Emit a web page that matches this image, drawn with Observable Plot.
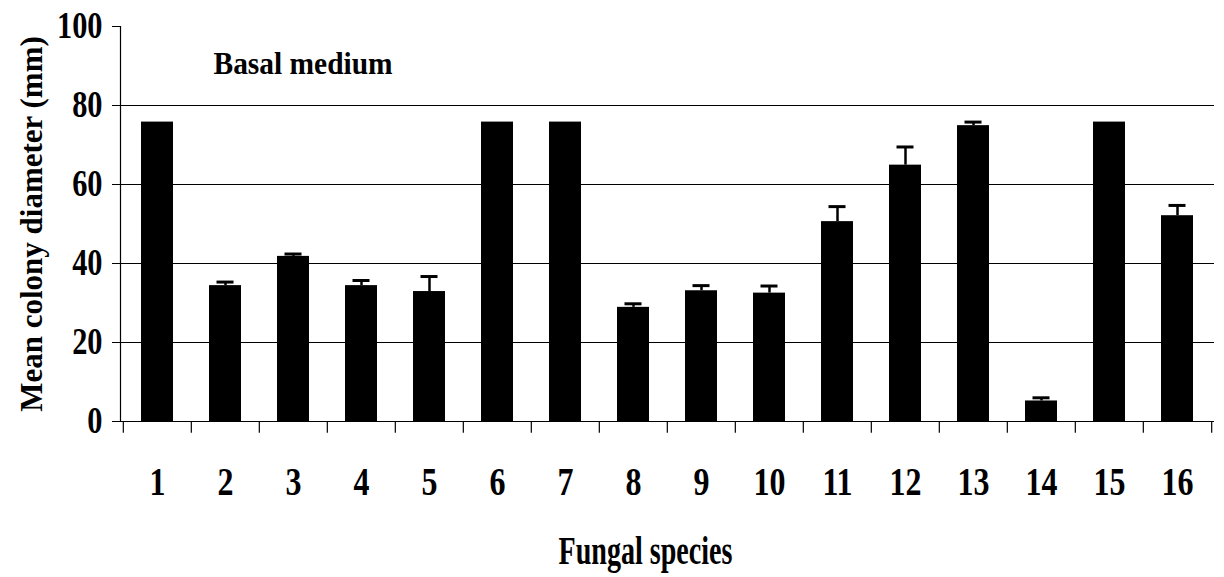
<!DOCTYPE html>
<html>
<head>
<meta charset="utf-8">
<script src="https://cdn.jsdelivr.net/npm/d3@7"></script>
<script src="https://cdn.jsdelivr.net/npm/@observablehq/plot@0.6"></script>
<style>
  html, body { margin: 0; padding: 0; background: white; }
</style>
</head>
<body>
<script>
const species = ["1","2","3","4","5","6","7","8","9","10","11","12","13","14","15","16"];
const means   = [75.8, 34.4, 41.8, 34.4, 32.9, 75.8, 75.8, 28.9, 33.1, 32.5, 50.6, 64.9, 74.9, 5.2, 75.8, 52.1];
const errors  = [0, 0.9, 0.6, 1.3, 3.8, 0, 0, 0.9, 1.3, 1.8, 3.8, 4.6, 0.9, 0.8, 0, 2.6];
const yTicks = [0, 20, 40, 60, 80, 100];
const gridValues = [20, 40, 60, 80];
const yTitle = "Mean colony diameter (mm)";
const xTitle = "Fungal species";
const panelTitle = "Basal medium";

const data = species.map((s, i) => ({species: s, mean: means[i], err: errors[i]}));
const withErr = data.filter(d => d.err > 0);

const halfStep = (1224 - 120 - 10) / species.length / 2;

const svg = Plot.plot({
  width: 1224,
  height: 577,
  marginLeft: 120,
  marginRight: 10,
  marginTop: 26,
  marginBottom: 156,
  style: {fontFamily: "'Liberation Serif', 'Times New Roman', serif", fontWeight: "bold", background: "white", color: "black"},
  x: {domain: species, paddingInner: 0.53, paddingOuter: 0.265, label: null},
  y: {domain: [0, 100], label: null},
  marks: [
    Plot.ruleY(gridValues, {stroke: "black", strokeWidth: 1.2}),
    Plot.ruleY([0], {stroke: "black", strokeWidth: 1.2}),
    Plot.frame({anchor: "left", stroke: "black", strokeWidth: 1.2}),
    Plot.ruleX(species, {x: d => d, y1: 0, y2: -3, dx: -halfStep, stroke: "black", strokeWidth: 1.2}),
    Plot.ruleX(species.slice(-1), {x: d => d, y1: 0, y2: -3, dx: halfStep, stroke: "black", strokeWidth: 1.2}),
    Plot.barY(data, {x: "species", y: "mean", fill: "black"}),
    Plot.ruleX(withErr, {x: "species", y1: "mean", y2: d => d.mean + d.err, stroke: "black", strokeWidth: 2.5}),
    Plot.tickY(withErr, {x: "species", y: d => d.mean + d.err, insetLeft: 7.5, insetRight: 7.5, stroke: "black", strokeWidth: 3}),
    Plot.axisY(yTicks, {tickSize: 8, tickPadding: 10, fontSize: 37, label: null}),
    Plot.axisX({tickSize: 0, tickPadding: 44, fontSize: 41, label: null}),
    Plot.text([yTitle], {frameAnchor: "left", rotate: -90, dx: -88, fontSize: 31, textAnchor: "middle", lineAnchor: "middle"}),
    Plot.text([xTitle], {frameAnchor: "bottom", dx: -22, dy: 115, textAnchor: "middle", lineAnchor: "top", fontSize: 39}),
    Plot.text([panelTitle], {frameAnchor: "top-left", dx: 93, dy: 25, textAnchor: "start", lineAnchor: "top", fontSize: 32})
  ]
});
document.body.append(svg);

function squeeze(selection, f) {
  selection.each(function() {
    const L = this.getComputedTextLength();
    this.setAttribute("textLength", L * f);
    this.setAttribute("lengthAdjust", "spacingAndGlyphs");
  });
}
const allText = d3.select(svg).selectAll("text");
squeeze(d3.select(svg).selectAll('g[aria-label="x-axis tick label"] text'), 0.78);
squeeze(d3.select(svg).selectAll('g[aria-label="y-axis tick label"] text'), 0.82);
squeeze(allText.filter(function() { return this.textContent === xTitle; }), 0.72);
squeeze(allText.filter(function() { return this.textContent === panelTitle; }), 0.92);
</script>
</body>
</html>
